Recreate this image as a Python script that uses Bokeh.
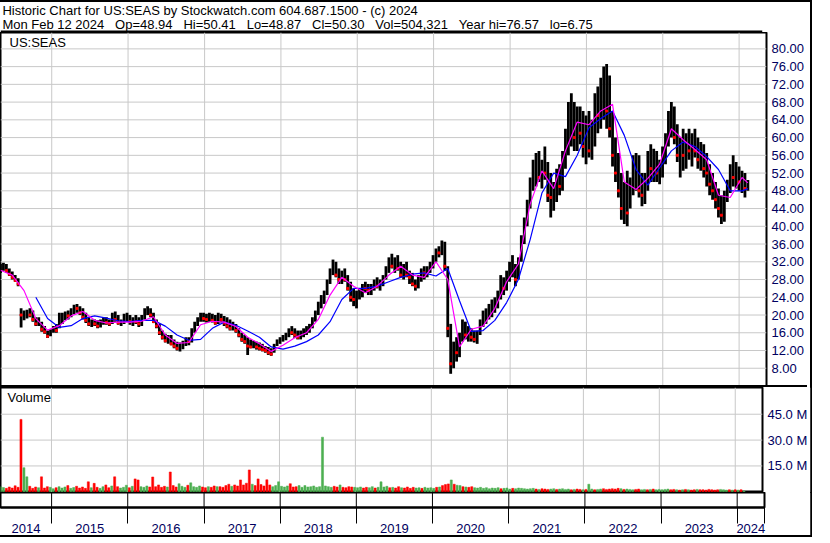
import numpy as np
import pandas as pd
from bokeh.plotting import figure
from bokeh.layouts import column
from bokeh.models import (Range1d, LinearAxis, FixedTicker, PrintfTickFormatter,
                          Label, ColumnDataSource, Span)
from bokeh.core.validation import silence
from bokeh.core.validation.warnings import MISSING_RENDERERS
from bokeh.embed import file_html
from bokeh.resources import INLINE

silence(MISSING_RENDERERS, True)

# ---------------- data ----------------
symbol = "US:SEAS"
header_line1 = "Historic Chart for US:SEAS by Stockwatch.com 604.687.1500 - (c) 2024"
header_line2 = ("Mon Feb 12 2024  Op=48.94  Hi=50.41  Lo=48.87  Cl=50.30  "
                "Vol=504,321  Year hi=76.57  lo=6.75")
first_date = "2014-05-01"
last_date = "2024-02-12"
view_end = "2024-05-11"
years = [2014, 2015, 2016, 2017, 2018, 2019, 2020, 2021, 2022, 2023, 2024]
price_ticks = [8, 12, 16, 20, 24, 28, 32, 36, 40, 44, 48, 52, 56, 60, 64, 68, 72, 76, 80]
volume_ticks = [15, 30, 45]

high = [31.5, 31.8, 31.5, 30.5, 29.8, 29.0, 28.3, 21.5, 21.0, 21.2,
        21.5, 21.0, 19.5, 19.5, 18.5, 17.5, 16.5, 16.8, 17.5, 18.0,
        20.5, 20.5, 20.8, 21.0, 21.5, 22.3, 22.5, 22.0, 21.5, 20.5,
        19.5, 19.0, 19.0, 18.8, 19.0, 19.5, 19.5, 19.0, 20.5, 20.8,
        20.0, 19.0, 20.3, 20.5, 20.0, 19.5, 20.0, 19.5, 20.0, 21.5,
        22.0, 21.5, 20.5, 19.0, 18.0, 16.5, 15.8, 15.5, 15.5, 14.5,
        14.0, 13.8, 14.2, 15.0, 15.0, 17.0, 18.5, 19.5, 20.5, 20.5,
        20.3, 20.5, 20.3, 20.0, 20.5, 20.3, 19.8, 19.5, 19.0, 18.5,
        18.0, 17.0, 16.0, 15.5, 15.0, 14.5, 14.2, 14.0, 13.8, 13.5,
        13.0, 12.8, 12.5, 13.5, 14.5, 15.0, 15.5, 16.0, 17.0, 17.5,
        17.0, 16.5, 16.5, 17.0, 17.5, 18.0, 19.5, 21.0, 23.0, 24.5,
        25.5, 28.0, 30.5, 32.5, 32.0, 30.5, 30.0, 30.5, 29.0, 27.5,
        26.0, 25.5, 26.0, 27.0, 27.5, 27.0, 27.0, 28.0, 28.5, 28.0,
        29.0, 31.0, 33.0, 33.8, 33.0, 33.5, 32.0, 31.5, 32.0, 30.0,
        29.5, 28.0, 29.0, 30.5, 31.0, 31.0, 32.0, 33.5, 35.0, 35.5,
        36.8, 36.5, 31.0, 18.0, 14.0, 15.0, 16.0, 19.0, 18.5, 17.5,
        17.0, 16.5, 16.5, 19.0, 21.0, 21.5, 22.5, 23.5, 24.0, 25.5,
        29.0, 28.5, 30.0, 32.0, 33.5, 31.5, 33.0, 38.0, 42.0, 46.0,
        51.0, 55.0, 56.5, 57.0, 55.0, 58.0, 54.5, 52.0, 50.0, 53.0,
        54.0, 57.0, 62.0, 68.0, 70.0, 68.0, 67.0, 67.0, 66.0, 65.0,
        66.0, 64.0, 70.0, 71.5, 73.5, 76.0, 76.57, 74.0, 66.0, 60.0,
        56.5, 52.0, 50.0, 52.5, 51.0, 56.0, 56.5, 56.0, 52.0, 52.0,
        57.0, 58.5, 57.5, 57.0, 55.0, 58.0, 61.0, 66.0, 68.0, 67.0,
        63.0, 60.0, 62.0, 61.0, 62.0, 61.0, 62.0, 60.0, 59.0, 58.5,
        56.5, 54.0, 52.0, 50.0, 48.5, 47.0, 48.0, 50.5, 54.0, 56.0,
        54.5, 53.5, 52.5, 52.0, 50.41]

low = [29.5, 30.0, 29.5, 28.8, 28.0, 27.5, 26.5, 17.2, 18.8, 19.2,
       19.5, 18.5, 17.5, 17.5, 16.2, 15.8, 14.8, 15.2, 16.0, 16.0,
       17.0, 18.0, 18.8, 19.0, 19.5, 20.2, 20.5, 20.0, 19.0, 18.2,
       17.5, 17.3, 17.5, 17.0, 17.2, 17.8, 17.8, 17.5, 18.0, 18.5,
       17.8, 17.5, 18.0, 18.5, 17.8, 17.5, 18.0, 17.3, 17.5, 19.0,
       20.0, 19.5, 18.2, 17.0, 15.5, 14.5, 13.8, 13.5, 13.2, 12.5,
       12.0, 11.8, 12.3, 13.0, 13.2, 13.8, 16.0, 17.5, 18.5, 18.5,
       18.3, 18.5, 18.3, 17.8, 18.0, 18.3, 17.5, 17.0, 16.5, 16.5,
       16.0, 15.0, 14.0, 13.5, 11.0, 12.5, 12.5, 12.2, 12.0, 11.8,
       11.5, 11.0, 10.8, 11.5, 13.0, 13.5, 14.0, 14.3, 15.0, 15.5,
       14.8, 14.5, 14.5, 15.0, 15.5, 16.0, 17.0, 18.5, 20.0, 21.5,
       22.5, 24.5, 27.0, 29.0, 28.5, 27.0, 27.0, 27.5, 25.5, 23.0,
       22.0, 21.5, 23.5, 24.0, 25.0, 24.5, 24.5, 25.5, 26.0, 25.5,
       26.5, 28.0, 29.5, 30.5, 29.5, 30.0, 28.5, 28.0, 28.5, 27.0,
       26.5, 25.5, 26.0, 27.5, 28.0, 28.5, 29.5, 30.5, 32.0, 33.0,
       33.5, 30.0, 15.0, 6.75, 8.0, 9.5, 10.5, 14.0, 14.5, 14.0,
       14.0, 13.8, 13.5, 15.5, 17.3, 18.0, 19.0, 19.5, 20.5, 21.5,
       23.5, 24.5, 25.5, 27.5, 28.5, 26.5, 28.0, 32.0, 36.0, 40.0,
       44.0, 48.0, 49.0, 50.0, 48.5, 50.5, 45.5, 42.0, 43.5, 45.5,
       47.0, 48.0, 53.0, 56.0, 58.0, 57.0, 57.0, 58.5, 55.5, 54.0,
       55.5, 55.0, 58.0, 61.0, 62.0, 64.0, 62.0, 60.0, 53.5, 50.0,
       46.5, 41.5, 40.5, 40.0, 44.0, 47.0, 48.0, 46.5, 44.5, 45.0,
       48.0, 50.0, 50.0, 50.0, 49.5, 51.0, 54.0, 58.0, 60.0, 58.5,
       54.5, 51.0, 52.5, 53.0, 55.0, 53.5, 55.5, 53.0, 52.5, 51.0,
       49.0, 47.0, 46.0, 44.0, 42.0, 40.5, 41.0, 45.5, 47.5, 49.0,
       48.5, 48.0, 47.5, 46.5, 48.0]

close = [30.5, 31.0, 30.0, 29.2, 28.5, 27.8, 27.0, 20.0, 20.5, 20.8,
         20.0, 19.0, 18.0, 18.5, 16.8, 16.2, 15.2, 16.5, 17.0, 16.5,
         18.2, 19.5, 20.2, 19.8, 21.0, 21.8, 21.5, 20.5, 19.5, 18.8,
         18.0, 18.5, 18.0, 17.5, 18.5, 19.2, 18.3, 18.0, 20.0, 19.0,
         18.2, 18.5, 19.5, 19.8, 18.5, 19.0, 18.5, 18.0, 19.5, 21.0,
         21.2, 20.0, 18.5, 17.5, 16.0, 15.0, 14.2, 14.8, 13.5, 13.0,
         12.5, 13.2, 13.8, 14.5, 14.0, 16.5, 18.0, 19.0, 20.0, 19.2,
         19.0, 19.5, 18.8, 18.2, 19.8, 19.0, 18.2, 17.5, 17.0, 18.0,
         16.5, 15.5, 14.5, 14.0, 13.0, 12.8, 13.0, 12.8, 12.5, 12.2,
         12.0, 11.5, 11.2, 13.2, 14.0, 14.5, 15.0, 15.5, 16.5, 16.0,
         15.5, 15.0, 16.0, 16.5, 17.0, 17.5, 19.0, 20.5, 22.5, 23.0,
         25.0, 27.5, 30.0, 31.5, 29.0, 28.0, 29.5, 28.0, 26.0, 24.0,
         23.5, 24.5, 25.5, 26.5, 26.0, 25.5, 26.5, 27.5, 26.5, 27.0,
         28.5, 30.5, 32.0, 31.0, 32.5, 30.5, 29.0, 30.5, 29.0, 28.5,
         27.0, 26.5, 28.5, 30.0, 29.5, 30.5, 31.5, 33.0, 34.5, 34.0,
         35.5, 31.0, 17.0, 9.0, 12.0, 11.5, 15.0, 18.0, 15.5, 16.5,
         15.0, 14.5, 16.0, 18.5, 19.5, 20.5, 21.5, 22.0, 23.0, 24.5,
         27.5, 26.0, 29.0, 30.5, 31.0, 28.0, 32.5, 37.0, 41.0, 45.0,
         50.0, 52.0, 54.0, 51.0, 53.5, 52.0, 47.0, 46.5, 48.0, 51.5,
         49.0, 56.0, 60.0, 63.0, 66.0, 60.0, 64.0, 61.0, 58.0, 62.0,
         57.0, 62.5, 67.0, 65.0, 70.0, 73.0, 66.0, 62.0, 56.0, 52.0,
         48.0, 44.0, 48.0, 43.0, 50.0, 51.0, 55.0, 48.0, 47.0, 51.0,
         55.0, 53.0, 55.5, 52.0, 53.5, 57.0, 60.0, 64.5, 66.0, 60.0,
         56.0, 58.0, 56.0, 59.5, 57.0, 59.0, 57.0, 55.0, 57.5, 53.0,
         52.0, 49.5, 48.0, 46.0, 44.0, 42.5, 46.5, 49.0, 52.5, 51.0,
         52.5, 50.0, 51.5, 48.5, 50.30]

volume_m = [3.0, 2.5, 2.0, 2.8, 2.2, 3.5, 2.6, 42.0, 14.0, 8.7,
            3.2, 2.0, 2.8, 2.4, 8.7, 2.2, 3.0, 2.6, 1.8, 2.4,
            3.0, 2.2, 2.8, 3.6, 2.0, 2.5, 3.2, 2.2, 2.8, 2.0,
            5.8, 2.4, 4.9, 2.6, 2.0, 3.0, 4.0, 2.4, 3.4, 8.7,
            3.0, 2.2, 2.6, 3.8, 2.4, 3.2, 7.5, 6.9, 3.0, 2.6,
            3.4, 2.8, 8.6, 3.0, 4.0, 2.6, 3.2, 2.8, 11.5, 3.6,
            2.8, 4.7, 3.2, 2.6, 3.8, 5.2, 3.0, 2.6, 3.4, 2.8,
            2.4, 3.0, 2.6, 3.4, 3.0, 3.0, 2.6, 3.6, 4.4, 3.2,
            4.0, 3.4, 6.9, 4.0, 5.0, 12.7, 4.4, 3.6, 7.5, 4.2,
            3.4, 7.0, 4.0, 3.0, 3.6, 5.8, 3.2, 2.8, 3.4, 4.7,
            2.8, 3.0, 3.6, 2.6, 3.6, 2.8, 3.0, 3.4, 2.6, 3.0,
            31.7, 3.4, 3.0, 2.6, 3.2, 2.8, 4.0, 2.6, 2.4, 3.0,
            2.8, 2.6, 2.4, 2.8, 2.2, 2.6, 2.4, 3.0, 2.2, 2.6,
            5.8, 2.8, 3.2, 2.4, 2.6, 2.2, 3.0, 2.4, 2.2, 2.8,
            2.0, 2.6, 2.2, 2.4, 2.0, 2.6, 2.2, 2.4, 2.0, 2.6,
            2.8, 3.6, 4.2, 4.6, 6.9, 4.4, 3.8, 3.6, 3.0, 2.8,
            2.6, 3.0, 2.4, 2.2, 2.6, 2.0, 2.4, 1.8, 2.2, 2.0,
            2.4, 1.8, 2.0, 2.2, 1.6, 2.0, 1.8, 2.2, 2.0, 1.8,
            1.6, 1.8, 2.0, 1.6, 1.4, 1.8, 1.6, 1.4, 1.6, 1.8,
            1.4, 1.6, 1.8, 1.4, 1.6, 1.2, 1.4, 1.6, 1.4, 1.2,
            1.4, 4.4, 1.6, 1.2, 1.4, 1.6, 1.8, 1.4, 1.6, 1.8,
            1.6, 2.0, 1.8, 1.4, 1.6, 1.4, 1.2, 1.4, 1.6, 1.2,
            1.4, 1.2, 1.4, 1.6, 1.2, 1.4, 1.2, 1.4, 1.6, 1.2,
            1.4, 1.2, 1.0, 1.2, 1.4, 1.2, 1.0, 1.2, 1.4, 1.2,
            1.2, 1.0, 1.4, 1.2, 1.0, 1.2, 1.4, 1.2, 1.0, 1.2,
            1.0, 1.2, 1.0, 1.2, 0.5]

ma_fast = [30.1, 29.0, 25.5, 19.2, 16.6, 17.6, 19.8, 20.8, 18.8, 18.2,
           18.4, 18.4, 18.6, 19.6, 15.5, 13.6, 13.8, 17.8, 18.6, 18.4,
           17.4, 15.0, 13.5, 11.8, 13.2, 14.9, 16.0, 19.0, 24.5, 28.5,
           26.5, 25.0, 26.5, 29.0, 31.0, 29.0, 28.5, 32.0, 28.0, 12.8,
           16.8, 17.5, 21.5, 27.5, 31.5, 45.0, 52.5, 48.5, 57.0, 63.5,
           62.9, 66.0, 67.5, 50.0, 48.3, 50.8, 54.0, 62.0, 59.5, 57.3,
           55.0, 47.0, 46.5, 51.0, 49.8]
ma_slow = [np.nan, np.nan, np.nan, 24.0, 19.2, 17.2, 17.6, 19.2, 19.8, 19.3,
           18.7, 18.5, 18.8, 18.8, 17.5, 15.5, 14.3, 14.5, 17.0, 18.4,
           17.7, 16.4, 15.0, 12.8, 12.3, 13.0, 14.0, 15.5, 18.5, 23.5,
           26.0, 26.0, 26.5, 27.5, 28.5, 29.2, 29.5, 28.8, 30.5, 23.2,
           16.3, 16.5, 18.8, 22.8, 28.0, 37.0, 47.5, 52.0, 51.2, 56.0,
           62.2, 64.3, 66.0, 60.5, 52.8, 49.3, 53.2, 57.0, 59.0, 58.0,
           55.7, 52.8, 48.0, 48.0, 48.5]

# ---------------- derived ----------------
FONT = "Liberation Sans"
AXIS_TXT = "#000060"
GRID = "#c8c8c8"
W = 812          # overall inner width
FW = 766         # frame width shared by the panels

dates = pd.date_range(first_date, last_date, periods=len(close))
close_arr = np.array(close)
down = np.array([False] + [close[i] < close[i - 1] for i in range(1, len(close))])
bar_colors = ["#ff0000" if d else "#4caf50" for d in down]
ma_idx = list(range(0, len(close), 4)) + [len(close) - 1]


def ms(t):
    return int(pd.Timestamp(t).value // 10**6)


x_start, x_end = ms(first_date), ms(view_end)
bounds = [ms(f"{y}-01-01") for y in years[1:]]
cells = [x_start] + bounds + [x_end]
centers = [(a + b) // 2 for a, b in zip(cells[:-1], cells[1:])]

xr = Range1d(x_start, x_end)

src = ColumnDataSource(dict(date=dates, high=high, low=low, close=close,
                            vol=volume_m, color=bar_colors))
down_src = ColumnDataSource(dict(date=dates[down], close=close_arr[down]))
ma_src = ColumnDataSource(dict(date=dates[ma_idx], fast=ma_fast, slow=ma_slow))


def add_grid(f, xlocs, ylocs, color):
    for loc in xlocs:
        f.add_layout(Span(location=loc, dimension="height", line_color=color,
                          line_width=1, level="underlay"))
    for loc in ylocs:
        f.add_layout(Span(location=loc, dimension="width", line_color=color,
                          line_width=1, level="underlay"))


def base_fig(frame_h, y_range, right_border=0, **kw):
    f = figure(frame_width=FW, frame_height=frame_h, x_range=xr, y_range=y_range,
               x_axis_location=None, y_axis_location=None, toolbar_location=None,
               output_backend="svg", min_border_left=0, min_border_right=right_border,
               min_border_top=0, min_border_bottom=0,
               outline_line_color="black", outline_line_width=2, **kw)
    f.grid.visible = False
    return f


def right_axis(ticks, fmt):
    return LinearAxis(ticker=FixedTicker(ticks=ticks), formatter=PrintfTickFormatter(format=fmt),
                      axis_line_color=None, major_tick_line_color=None,
                      minor_tick_line_color=None, major_tick_out=0, major_tick_in=0,
                      major_label_standoff=5, major_label_text_font=FONT,
                      major_label_text_font_size="13px", major_label_text_color=AXIS_TXT)


# ---------------- header ----------------
header = figure(width=W, height=30, x_range=Range1d(0, W), y_range=Range1d(0, 30),
                x_axis_location=None, y_axis_location=None, toolbar_location=None,
                output_backend="svg", min_border=0, outline_line_color=None)
header.grid.visible = False
header.add_layout(Span(location=1, dimension="width", line_color="black", line_width=2))
header.add_layout(Label(x=2, y=30, text=header_line1, text_baseline="top",
                        text_font=FONT, text_font_size="13px", text_color="black"))
header.add_layout(Label(x=2, y=16, text=header_line2.replace("  ", "\u00a0\u00a0\u00a0"),
                        text_baseline="top", text_font=FONT, text_font_size="13px",
                        text_color="black"))

# ---------------- price panel ----------------
price = base_fig(353, Range1d(3.66, 83.69), styles={"border-bottom": "2px solid black"})
add_grid(price, bounds, price_ticks, GRID)
price.segment(x0="date", y0="low", x1="date", y1="high", source=src,
              line_color="black", line_width=2.8)
price.scatter(x="date", y="close", source=down_src, marker="square", size=2,
              color="#ff0000")
price.line("date", "slow", source=ma_src, line_color="#0000ff", line_width=1.2)
price.line("date", "fast", source=ma_src, line_color="#ff00ff", line_width=1.2)
price.add_layout(right_axis(price_ticks, "%.2f"), "right")
price.add_layout(Label(x=x_start, y=83.69, text=symbol, x_offset=9, y_offset=-2,
                       text_baseline="top", text_font=FONT, text_font_size="13px",
                       text_color="black"))

# ---------------- volume panel ----------------
vol = base_fig(105, Range1d(-0.4, 60.5))
add_grid(vol, bounds, volume_ticks, GRID)
vol.vbar(x="date", top="vol", bottom=0, width=10 * 86400000, source=src,
         fill_color="color", line_color="color", line_width=0.5)
vol.add_layout(right_axis(volume_ticks, "%.1f M"), "right")
vol.add_layout(Label(x=x_start, y=60.5, text="Volume", x_offset=7, y_offset=-2,
                     text_baseline="top", text_font=FONT, text_font_size="13px",
                     text_color="black"))

# ---------------- bottom year strip ----------------
bottom = base_fig(15, Range1d(0, 1), right_border=W - FW)
add_grid(bottom, bounds, [], "black")
bax = LinearAxis(ticker=FixedTicker(ticks=centers, minor_ticks=bounds + [x_end]),
                 major_label_overrides={c: str(y) for c, y in zip(centers, years)},
                 axis_line_color="black", axis_line_width=2,
                 major_tick_line_color=None, major_tick_out=0, major_tick_in=0,
                 minor_tick_line_color="black", minor_tick_in=0, minor_tick_out=16,
                 major_label_standoff=0, major_label_text_font=FONT,
                 major_label_text_font_size="13px", major_label_text_color=AXIS_TXT)
bottom.add_layout(bax, "below")

layout = column(header, price, vol, bottom, spacing=0, width=W,
                styles={"border-top": "2px solid black", "border-right": "2px solid black",
                        "border-bottom": "2px solid black"})

open("out.html", "w").write(file_html(layout, INLINE))
